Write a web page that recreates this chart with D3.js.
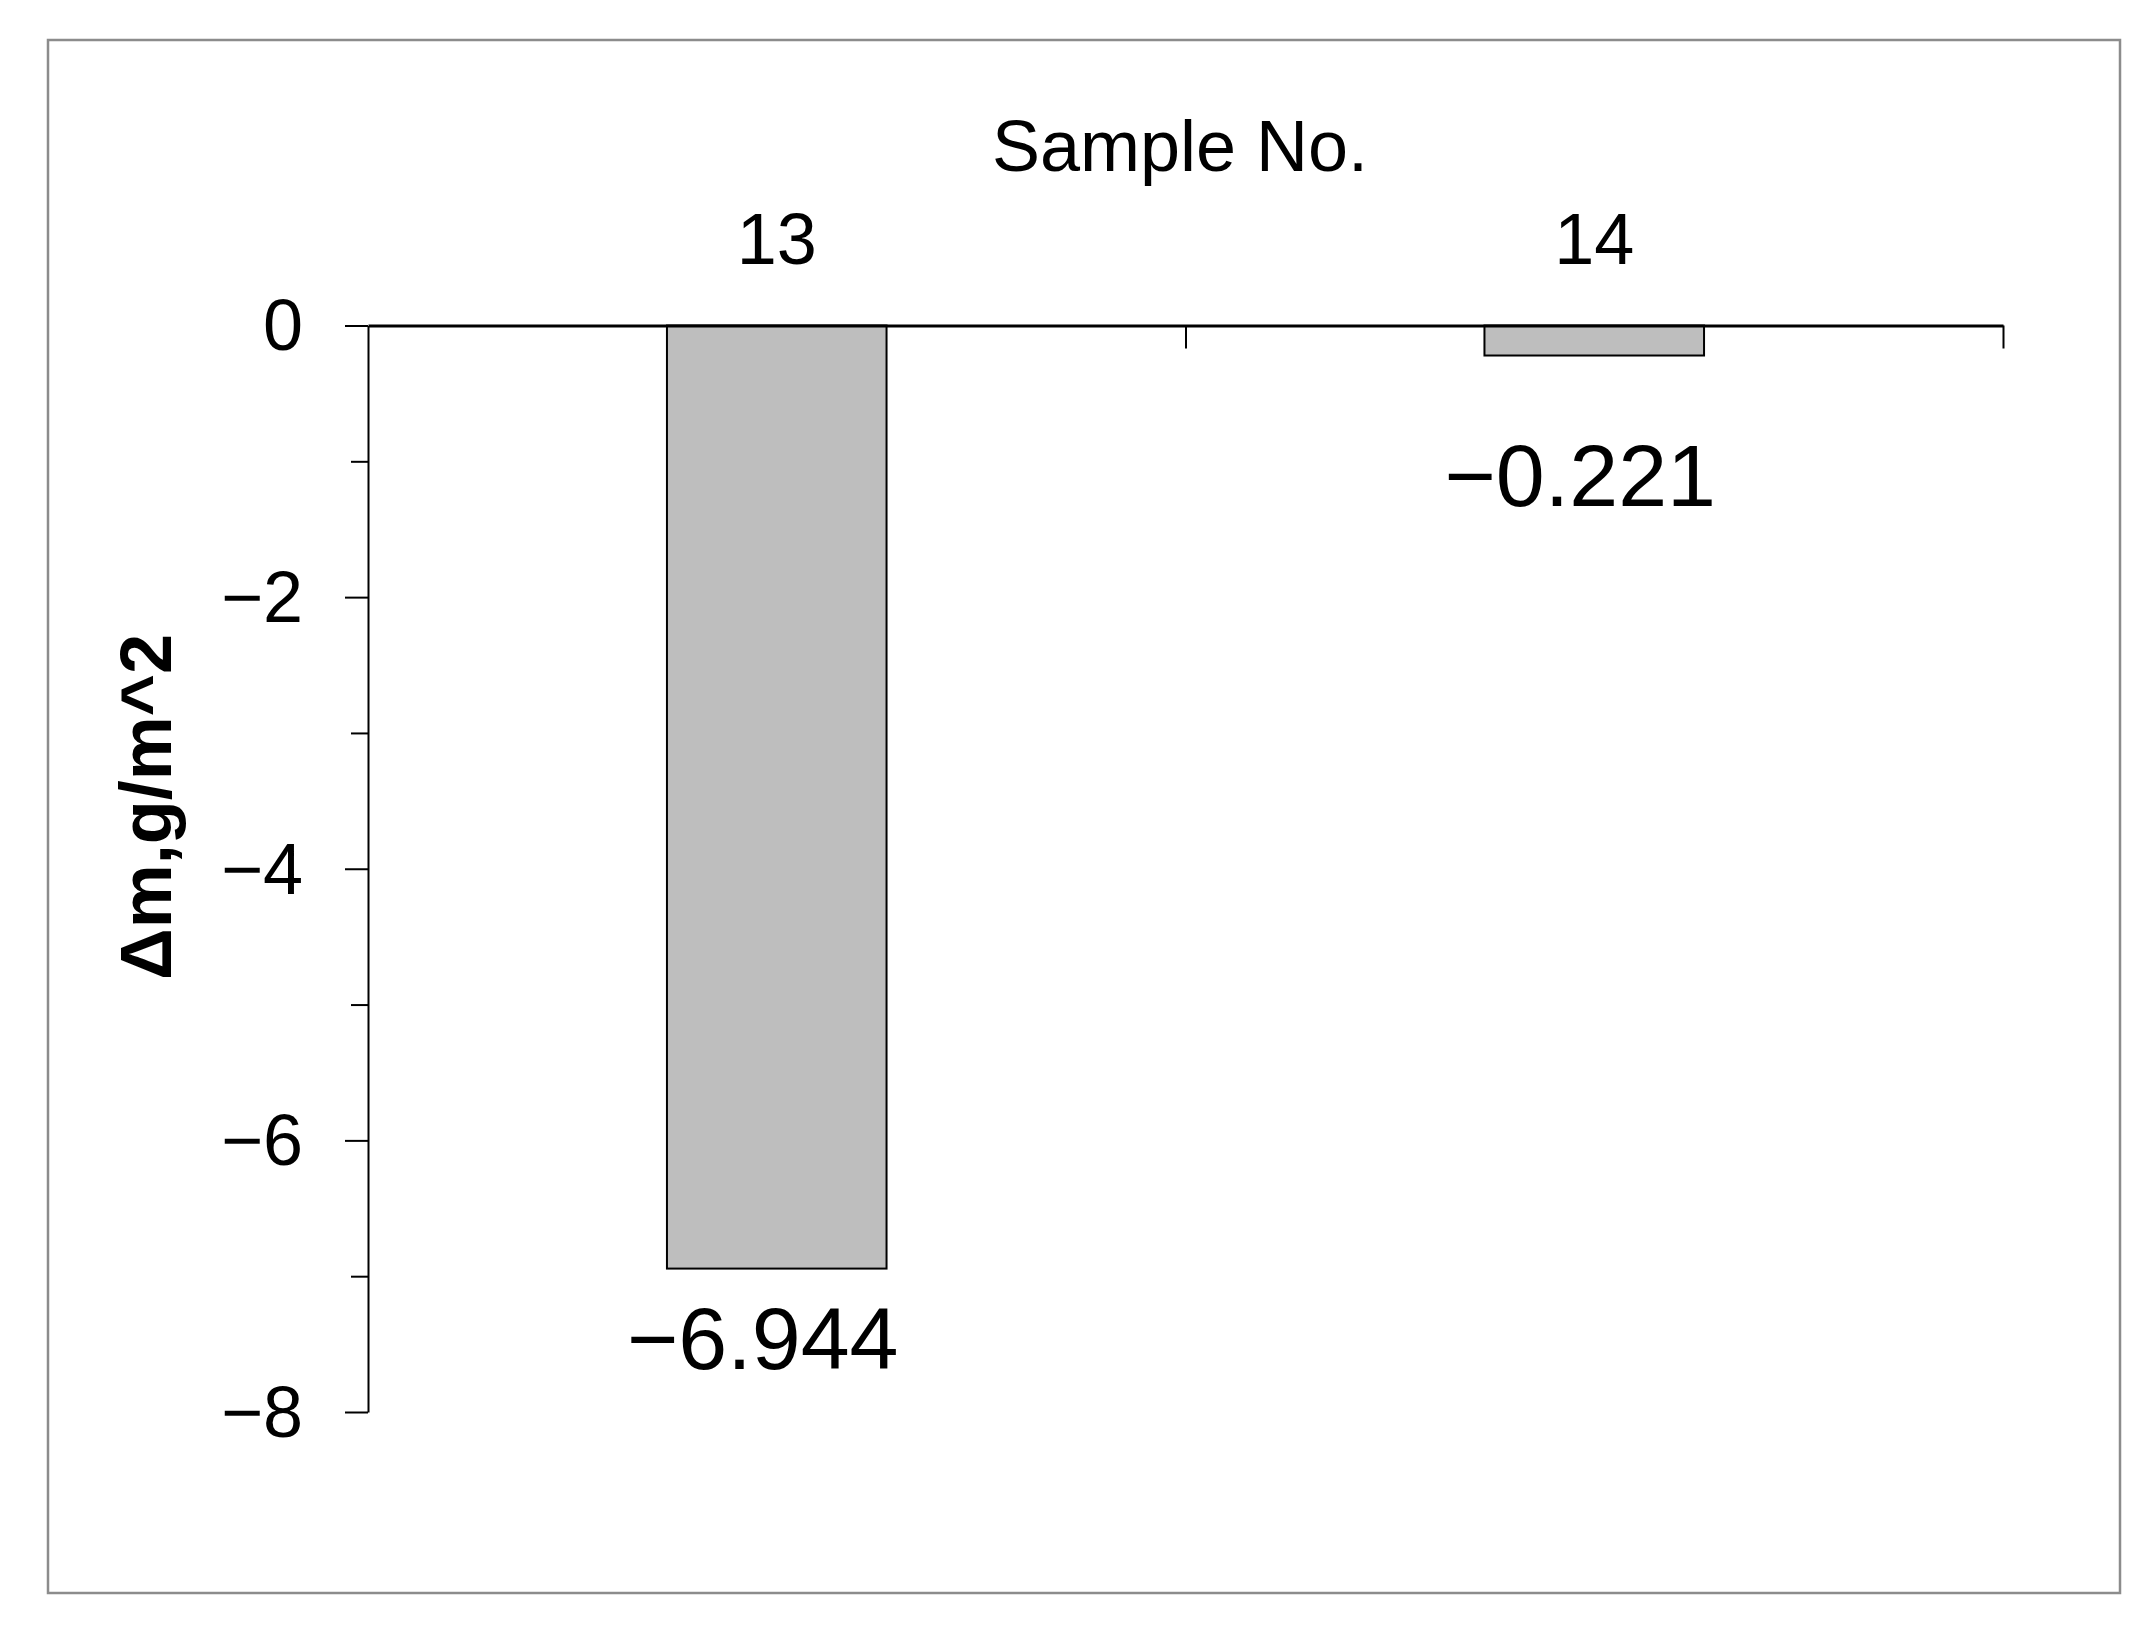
<!DOCTYPE html>
<html>
<head>
<meta charset="utf-8">
<script src="https://cdn.jsdelivr.net/npm/d3@7"></script>
<style>
  html, body { margin: 0; padding: 0; background: #fff; }
  svg { display: block; }
  text { font-family: "Liberation Sans", Arial, sans-serif; fill: #000; }
</style>
</head>
<body>
<script>
// ---- data ----
const categories = ["13", "14"];
const values = [-6.944, -0.221];
const valueLabels = ["−6.944", "−0.221"];
const yMajorTicks = [0, -2, -4, -6, -8];
const yMinorTicks = [-1, -3, -5, -7];
const xTitle = "Sample No.";
const yTitle = "Δm,g/m^2";

// ---- layout ----
const W = 2152, H = 1636;
const plotLeft = 368, plotRight = 2003, plotTop = 325.5, plotBottom = 1412;
const labelOffsets = [100, 150];

const svg = d3.select("body").append("svg").attr("width", W).attr("height", H);

// outer frame
svg.append("rect").attr("x", 48).attr("y", 40).attr("width", 2072).attr("height", 1553)
  .attr("fill", "none").attr("stroke", "#8c8c8c").attr("stroke-width", 2.5);

const y = d3.scaleLinear().domain([-8, 0]).range([plotBottom, plotTop]);
const x = d3.scaleBand().domain(categories).range([plotLeft, plotRight])
  .paddingInner(0.7314).paddingOuter(0.3657);
const xEdge = d3.scaleLinear().domain([0, categories.length]).range([plotLeft, plotRight]);

// bars
svg.append("g").selectAll("rect").data(values).join("rect")
  .attr("x", (d, i) => x(categories[i]))
  .attr("y", y(0))
  .attr("width", x.bandwidth())
  .attr("height", d => y(d) - y(0))
  .attr("fill", "#bebebe").attr("stroke", "#000").attr("stroke-width", 2);

// y axis major
const yAx = svg.append("g").attr("transform", `translate(${plotLeft},0)`)
  .call(d3.axisLeft(y).tickValues(yMajorTicks).tickSize(23).tickSizeOuter(0).tickPadding(42)
    .tickFormat(d => d === 0 ? "0" : "−" + Math.abs(d)));
yAx.attr("font-family", null).attr("font-size", null);
yAx.selectAll("text").attr("font-size", 72).attr("dy", "0.34em");
yAx.selectAll("line,path").attr("stroke", "#000").attr("stroke-width", 2);

// y axis minor
const yMin = svg.append("g").attr("transform", `translate(${plotLeft},0)`)
  .call(d3.axisLeft(y).tickValues(yMinorTicks).tickSize(17).tickFormat(""));
yMin.select(".domain").remove();
yMin.selectAll("line").attr("stroke", "#000").attr("stroke-width", 2);

// top x axis: boundary ticks
const xTicks = svg.append("g").attr("transform", `translate(0,${plotTop})`)
  .call(d3.axisTop(xEdge).tickValues([1, 2]).tickSize(-23).tickSizeOuter(0).tickFormat(""));
xTicks.selectAll("line").attr("stroke", "#000").attr("stroke-width", 2);
xTicks.select(".domain").attr("stroke", "#000").attr("stroke-width", 3);

// top x axis: category labels
const xLab = svg.append("g").attr("transform", `translate(0,${plotTop})`)
  .call(d3.axisTop(x).tickSize(0).tickPadding(62));
xLab.select(".domain").remove();
xLab.attr("font-family", null).attr("font-size", null);
xLab.selectAll("text").attr("font-size", 72);

// value labels
svg.append("g").selectAll("text").data(values).join("text")
  .attr("x", (d, i) => x(categories[i]) + x.bandwidth() + 12)
  .attr("y", (d, i) => y(d) + labelOffsets[i])
  .attr("text-anchor", "end")
  .attr("font-size", 88)
  .text((d, i) => valueLabels[i]);

// titles
svg.append("text").attr("x", 1180).attr("y", 171).attr("text-anchor", "middle")
  .attr("font-size", 72).text(xTitle);
svg.append("text").attr("transform", "translate(171,807) rotate(-90)")
  .attr("text-anchor", "middle").attr("font-size", 72).attr("font-weight", "bold").text(yTitle);
</script>
</body>
</html>
